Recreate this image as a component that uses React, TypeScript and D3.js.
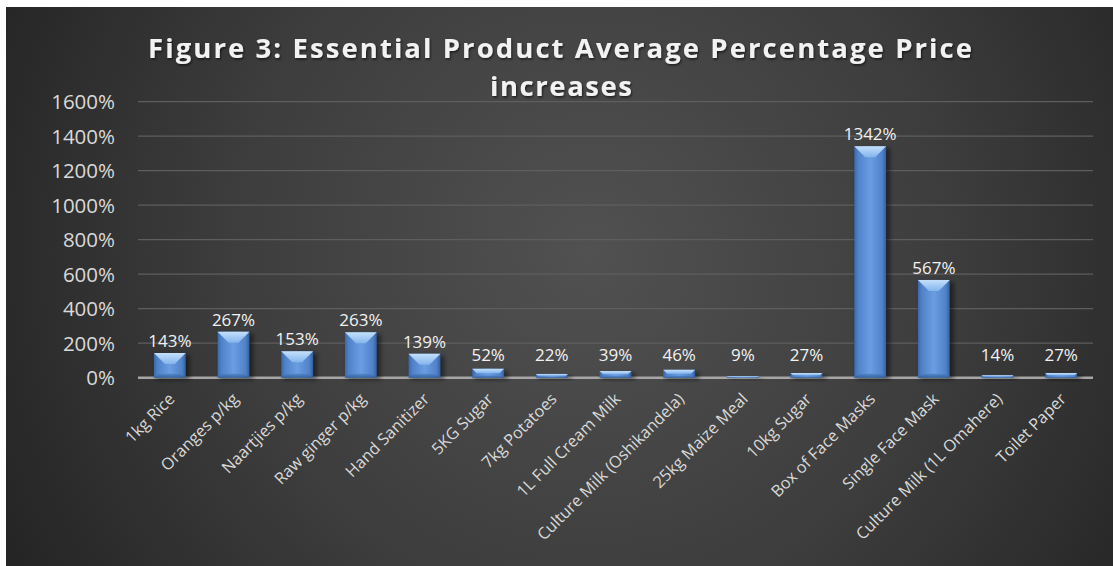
import React from "react";
import * as d3 from "d3";

const categories = [
  "1kg Rice",
  "Oranges p/kg",
  "Naartjies p/kg",
  "Raw ginger p/kg",
  "Hand Sanitizer",
  "5KG Sugar",
  "7kg Potatoes",
  "1L Full Cream Milk",
  "Culture Milk (Oshikandela)",
  "25kg Maize Meal",
  "10kg Sugar",
  "Box of Face Masks",
  "Single Face Mask",
  "Culture Milk (1L Omahere)",
  "Toilet Paper",
];
const values = [143, 267, 153, 263, 139, 52, 22, 39, 46, 9, 27, 1342, 567, 14, 27];
const yTicks = [0, 200, 400, 600, 800, 1000, 1200, 1400, 1600];
const titleLines = ["Figure 3: Essential Product Average Percentage Price", "increases"];

const W = 1113;
const H = 566;
const FONT = "'Open Sans', 'DejaVu Sans', sans-serif";

export default function App() {
  const x = d3
    .scaleBand<string>()
    .domain(categories)
    .range([138, 1093])
    .paddingInner(0.5)
    .paddingOuter(0.25);
  const y = d3.scaleLinear().domain([0, 1600]).range([377.7, 101.7]);
  const bw = x.bandwidth();

  return (
    <svg
      width={W}
      height={H}
      style={{ position: "absolute", left: 0, top: 0 }}
      xmlns="http://www.w3.org/2000/svg"
    >
      <defs>
        <radialGradient id="bg" gradientUnits="userSpaceOnUse" cx={590} cy={250} r={650}>
          <stop offset="0%" stopColor="#515151" />
          <stop offset="55%" stopColor="#3d3d3d" />
          <stop offset="100%" stopColor="#252525" />
        </radialGradient>
        <linearGradient id="barG" x1="0" x2="1" y1="0" y2="0">
          <stop offset="0%" stopColor="#3a69aa" />
          <stop offset="12%" stopColor="#4f82c8" />
          <stop offset="50%" stopColor="#6a9de2" />
          <stop offset="88%" stopColor="#4f82c8" />
          <stop offset="100%" stopColor="#34609c" />
        </linearGradient>
        <linearGradient id="bevelG" x1="0" x2="0" y1="0" y2="1">
          <stop offset="0%" stopColor="#c4e0fb" />
          <stop offset="100%" stopColor="#84b4ec" />
        </linearGradient>
        <linearGradient id="bevelB" x1="0" x2="0" y1="0" y2="1">
          <stop offset="0%" stopColor="#4f82c8" />
          <stop offset="100%" stopColor="#2f5a94" />
        </linearGradient>
        <filter id="shadow" x="-30%" y="-30%" width="160%" height="160%">
          <feGaussianBlur stdDeviation="2" />
        </filter>
        <filter id="tshadow" x="-5%" y="-30%" width="110%" height="160%">
          <feDropShadow dx="1" dy="1.5" stdDeviation="1" floodColor="#000" floodOpacity="0.6" />
        </filter>
      </defs>

      <rect x={0} y={0} width={W} height={H} fill="#ffffff" />
      <rect x={6} y={7} width={W - 6} height={H - 7} fill="url(#bg)" />

      {/* title */}
      <g filter="url(#tshadow)" fill="#f2f2f2" fontFamily={FONT} fontWeight={700} fontSize={27.5}>
        <text x={148} y={58} textLength={824} lengthAdjust="spacing">
          {titleLines[0]}
        </text>
        <text x={490} y={96} textLength={142} lengthAdjust="spacing">
          {titleLines[1]}
        </text>
      </g>

      {/* gridlines */}
      {yTicks.map((t) => (
        <line
          key={"g" + t}
          x1={138}
          x2={1093}
          y1={y(t)}
          y2={y(t)}
          stroke={t === 0 ? "#a6a6a6" : "#5e5e5e"}
          strokeWidth={t === 0 ? 2.5 : 1.2}
        />
      ))}

      {/* y tick labels */}
      {yTicks.map((t) => (
        <text
          key={"yl" + t}
          x={115}
          y={y(t) + 7.5}
          textAnchor="end"
          fill="#d9d9d9"
          fontFamily={FONT}
          fontSize={20.5}
        >
          {t + "%"}
        </text>
      ))}

      {/* bars */}
      {values.map((v, i) => {
        const x0 = x(categories[i]) as number;
        const yt = y(v);
        const yb = y(0);
        const h = yb - yt;
        const d = Math.min(11, h / 2, bw / 2);
        const db = Math.min(4, h / 4);
        return (
          <g key={"b" + i}>
            <rect x={x0 + 2} y={yt + 2} width={bw + 2} height={h} fill="#000" opacity={0.45} filter="url(#shadow)" />
            <rect x={x0} y={yt} width={bw} height={h} fill="url(#barG)" />
            <polygon
              points={`${x0},${yt} ${x0 + bw},${yt} ${x0 + bw - d},${yt + d} ${x0 + d},${yt + d}`}
              fill="url(#bevelG)"
            />
            <polygon
              points={`${x0},${yb} ${x0 + bw},${yb} ${x0 + bw - db},${yb - db} ${x0 + db},${yb - db}`}
              fill="url(#bevelB)"
              opacity={0.8}
            />
          </g>
        );
      })}

      {/* data labels */}
      {values.map((v, i) => (
        <text
          key={"dl" + i}
          x={(x(categories[i]) as number) + bw / 2}
          y={Math.min(y(v) - 6, 361)}
          textAnchor="middle"
          fill="#f2f2f2"
          fontFamily={FONT}
          fontSize={17}
        >
          {v + "%"}
        </text>
      ))}

      {/* x labels */}
      {categories.map((c) => {
        const cx = (x(c) as number) + bw / 2 + 6;
        const cy = 400;
        return (
          <text
            key={"xl" + c}
            x={cx}
            y={cy}
            transform={`rotate(-45 ${cx} ${cy})`}
            textAnchor="end"
            fill="#d9d9d9"
            fontFamily={FONT}
            fontSize={16.3}
          >
            {c}
          </text>
        );
      })}
    </svg>
  );
}
